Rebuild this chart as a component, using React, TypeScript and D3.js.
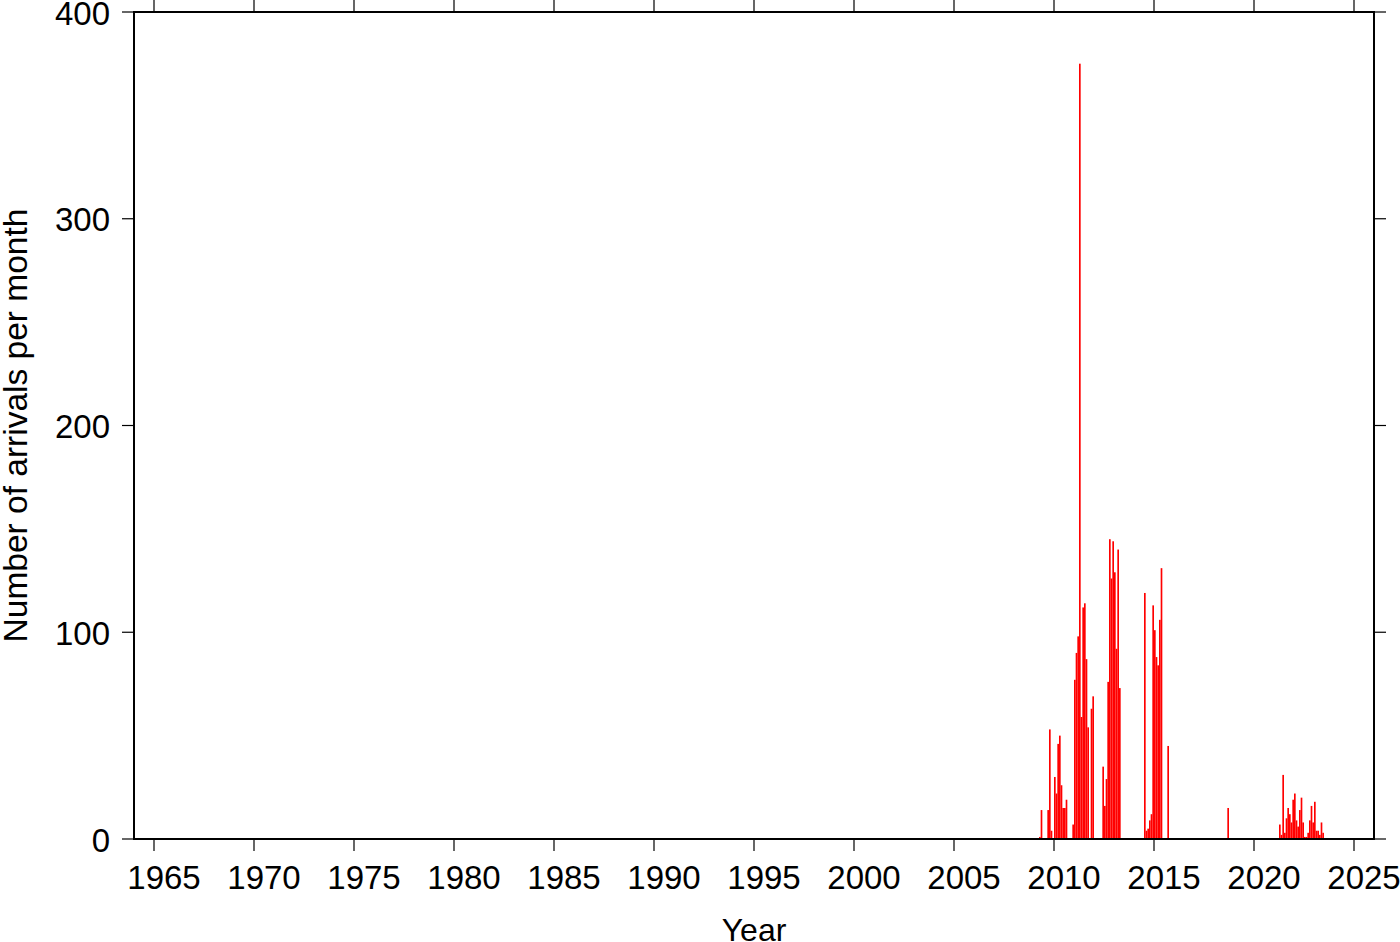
import React from "react";
import * as d3 from "d3";

const months: string[] = [
  "2009-04","2009-05","2009-09","2009-10","2009-11",
  "2010-01","2010-02","2010-03","2010-04","2010-05","2010-06","2010-07","2010-08","2010-12",
  "2011-01","2011-02","2011-03","2011-04","2011-05","2011-06","2011-07","2011-08","2011-09","2011-11","2011-12",
  "2012-06","2012-07","2012-08","2012-09","2012-10","2012-11","2012-12",
  "2013-01","2013-02","2013-03","2013-04",
  "2014-07","2014-08","2014-09","2014-10","2014-11","2014-12",
  "2015-01","2015-02","2015-03","2015-04","2015-05","2015-09",
  "2018-09",
  "2021-04","2021-05","2021-06","2021-07","2021-08","2021-09","2021-10","2021-11","2021-12",
  "2022-01","2022-02","2022-03","2022-04","2022-05","2022-06","2022-07","2022-08","2022-09","2022-10","2022-11","2022-12",
  "2023-01","2023-02","2023-03","2023-04","2023-05","2023-06",
];

const arrivals: number[] = [
  1, 14, 14, 53, 4,
  30, 22, 46, 50, 26, 15, 15, 19, 7,
  77, 90, 98, 375, 59, 112, 114, 87, 54, 63, 69,
  35, 16, 29, 76, 145, 126, 144,
  129, 92, 140, 73,
  119, 4, 5, 9, 12, 113,
  101, 88, 84, 106, 131, 45,
  15,
  7, 2, 31, 3, 10, 15, 12, 8, 19,
  22, 9, 6, 14, 20, 8, 1, 1, 3, 9, 16, 8,
  18, 4, 4, 2, 8, 3,
];

const xTicks: number[] = [1965, 1970, 1975, 1980, 1985, 1990, 1995, 2000, 2005, 2010, 2015, 2020, 2025];
const yTicks: number[] = [0, 100, 200, 300, 400];

const W = 1400;
const H = 942;
const left = 134;
const right = 1374;
const top = 12;
const bottom = 839;
const FONT = "'Liberation Sans', Arial, Helvetica, sans-serif";

export default function App() {
  const x = d3.scaleLinear().domain([1964, 2026]).range([left, right]);
  const y = d3.scaleLinear().domain([0, 400]).range([bottom, top]);
  const monthW = x(1964 + 1 / 12) - x(1964);

  const bars = months.map((m, i) => {
    const [yr, mo] = m.split("-").map(Number);
    const t = yr + (mo - 1) / 12;
    return { t, v: arrivals[i] };
  });

  return (
    <svg
      width={W}
      height={H}
      style={{ position: "absolute", left: 0, top: 0, background: "#fff" }}
      fontFamily={FONT}
    >
      <rect x={0} y={0} width={W} height={H} fill="#fff" />
      {bars.map((b, i) => (
        <rect
          key={i}
          x={x(b.t)}
          y={y(b.v)}
          width={monthW}
          height={y(0) - y(b.v)}
          fill="#ff0000"
        />
      ))}
      {xTicks.map((t) => (
        <g key={"x" + t}>
          <line x1={x(t)} x2={x(t)} y1={bottom} y2={bottom + 12} stroke="#000" strokeWidth={1.2} />
          <line x1={x(t)} x2={x(t)} y1={top} y2={top - 12} stroke="#000" strokeWidth={1.2} />
          <text x={x(t) + 10} y={889} textAnchor="middle" fontSize={33} fill="#000">
            {t}
          </text>
        </g>
      ))}
      {yTicks.map((t) => (
        <g key={"y" + t}>
          <line x1={left} x2={left - 12} y1={y(t)} y2={y(t)} stroke="#000" strokeWidth={1.2} />
          <line x1={right} x2={right + 12} y1={y(t)} y2={y(t)} stroke="#000" strokeWidth={1.2} />
          <text x={110} y={y(t) + 12.5} textAnchor="end" fontSize={33} fill="#000">
            {t}
          </text>
        </g>
      ))}
      <rect
        x={left}
        y={top}
        width={right - left}
        height={bottom - top}
        fill="none"
        stroke="#000"
        strokeWidth={2}
      />
      <text x={(left + right) / 2} y={941} textAnchor="middle" fontSize={32} fill="#000">
        Year
      </text>
      <text
        transform={`translate(27, ${(top + bottom) / 2}) rotate(-90)`}
        textAnchor="middle"
        fontSize={33.5}
        fill="#000"
      >
        Number of arrivals per month
      </text>
    </svg>
  );
}
